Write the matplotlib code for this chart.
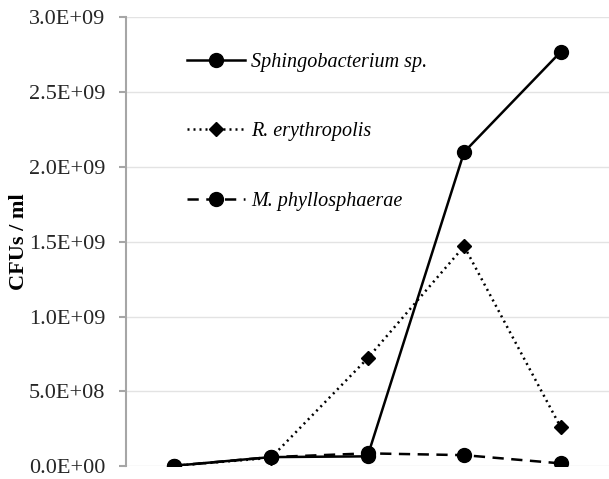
import matplotlib.pyplot as plt
from matplotlib.ticker import FuncFormatter

plt.rcParams['font.family'] = ['Liberation Serif', 'DejaVu Serif']

# Sampling points (no labels shown on the x axis)
timepoints = [0, 1, 2, 3, 4]
sphingo = [2e6, 6.0e7, 6.5e7, 2.10e9, 2.77e9]
erythropolis = [2e6, 5.5e7, 7.2e8, 1.47e9, 2.6e8]
phyllosphaerae = [2e6, 6.0e7, 8.5e7, 7.3e7, 1.8e7]
yticks = [0, 5e8, 1e9, 1.5e9, 2e9, 2.5e9, 3e9]

fig = plt.figure(figsize=(6.09, 4.79), dpi=100)
ax = fig.add_axes([0.207, 0.027, 0.793, 0.9365])

ax.plot(timepoints, phyllosphaerae, color='black', linestyle=(0, (4.5, 3)), linewidth=1.8,
        marker='o', markersize=10, label='M. phyllosphaerae', zorder=3)
ax.plot(timepoints, erythropolis, color='black', linestyle=(0, (0.8, 1.6)), linewidth=1.8,
        marker='D', markersize=7, label='R. erythropolis', zorder=3)
ax.plot(timepoints, sphingo, color='black', linestyle='-', linewidth=1.8,
        marker='o', markersize=10, label='Sphingobacterium sp.', zorder=4)

ax.set_xlim(-0.5, 4.5)
ax.set_ylim(0, 3e9)
ax.set_yticks(yticks)
ax.yaxis.set_major_formatter(FuncFormatter(lambda v, p: '%.1E' % v))
ax.set_xticks([])
ax.grid(True, axis='y', color='#e3e3e3', linewidth=1.0)
ax.set_axisbelow(True)

for s in ['top', 'right', 'bottom']:
    ax.spines[s].set_visible(False)
ax.spines['left'].set_color('#a6a6a6')
ax.spines['left'].set_linewidth(1.5)
ax.tick_params(axis='y', colors='#a6a6a6', length=5, width=1.5, labelsize=16,
               labelcolor='#262626', pad=10)

ax.set_ylabel('CFUs / ml', fontsize=16, fontweight='bold', labelpad=0)

handles, labels = ax.get_legend_handles_labels()
order = [2, 1, 0]
leg = ax.legend([handles[i] for i in order], [labels[i] for i in order],
                loc='upper left', bbox_to_anchor=(0.088, 0.962), frameon=False,
                prop={'style': 'italic', 'size': 14.5}, handlelength=2.9,
                handletextpad=0.3, labelspacing=2.5, numpoints=1)

fig.savefig('out.png', dpi=100)
